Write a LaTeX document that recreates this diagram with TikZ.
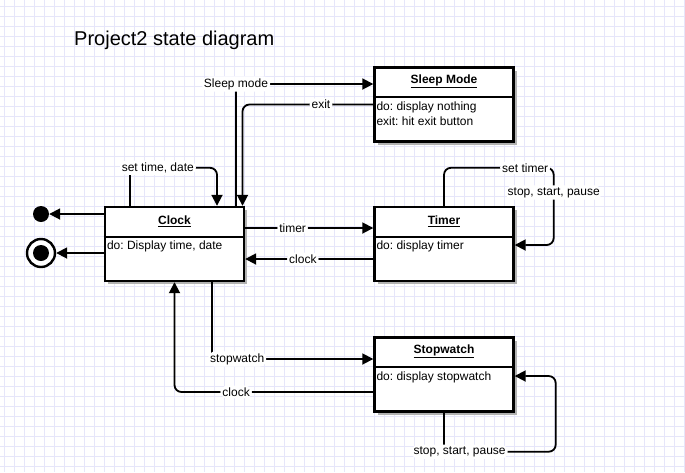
\documentclass[tikz,border=0pt]{standalone}
\usepackage{fontspec}
\setmainfont{Liberation Sans}
\usetikzlibrary{arrows.meta,positioning,calc,shadows}
\frenchspacing

\definecolor{gridblue}{RGB}{230,230,250}

\tikzset{
  statebox/.style={draw, line width=2.4pt, fill=white, minimum width=139pt, minimum height=74pt, inner sep=0pt,
    drop shadow={shadow xshift=3pt, shadow yshift=-3pt, fill=black!30, opacity=1}},
  statename/.style={font=\fontsize{12}{14}\selectfont\bfseries, inner sep=0pt, minimum height=30pt},
  statedo/.style={font=\fontsize{12}{15}\selectfont, align=left, anchor=north west, inner sep=2pt},
  divider/.style={line width=1.8pt},
  trans/.style={line width=1.8pt, rounded corners=7pt, -{Triangle[length=11pt,width=11pt]}},
  lbl/.style={fill=white, inner sep=2pt, font=\fontsize{12}{14}\selectfont},
  gridline/.style={line width=0.7pt, color=gridblue},
  dot/.style={circle, fill=black, minimum size=16pt, inner sep=0pt},
}

\begin{document}
\begin{tikzpicture}[x=1pt, y=-1pt]

	\fill[white] (0,0) rectangle (685,472);
	\useasboundingbox (0,0) rectangle (685,472);

	% grid
	\foreach \gx in {4,14,...,684}
		\draw[gridline] (\gx,0) -- (\gx,472);
	\foreach \gy in {6.5,16.5,...,472}
		\draw[gridline] (0,\gy) -- (685,\gy);

	\node[anchor=base west, inner sep=0pt, font=\fontsize{20}{24}\selectfont] (title) at (74,45.5) {Project2 state diagram};

	% states
	\node[statebox] (clock) at (174.5,244) {};
	\node[statename, below=0pt of clock.north] (clockname) {\underline{Clock}};
	\draw[divider] ($(clock.north west)+(0,31)$) -- ($(clock.north east)+(0,31)$);
	\node[statedo] (clockdo) at ($(clock.north west)+(1,33)$) {do: Display time, date};

	\node[statebox] (sleep) at (444,104.5) {};
	\node[statename, below=0pt of sleep.north] (sleepname) {\underline{Sleep Mode}};
	\draw[divider] ($(sleep.north west)+(0,31)$) -- ($(sleep.north east)+(0,31)$);
	\node[statedo] (sleepdo) at ($(sleep.north west)+(1,33)$) {do: display nothing\\exit: hit exit button};

	\node[statebox] (timer) at (444,244) {};
	\node[statename, below=0pt of timer.north] (timername) {\underline{Timer}};
	\draw[divider] ($(timer.north west)+(0,31)$) -- ($(timer.north east)+(0,31)$);
	\node[statedo] (timerdo) at ($(timer.north west)+(1,33)$) {do: display timer};

	\node[statebox] (stopwatch) at (444,374.5) {};
	\node[statename, below=0pt of stopwatch.north] (stopwatchname) {\underline{Stopwatch}};
	\draw[divider] ($(stopwatch.north west)+(0,31)$) -- ($(stopwatch.north east)+(0,31)$);
	\node[statedo] (stopwatchdo) at ($(stopwatch.north west)+(1,33)$) {do: display stopwatch};

	% initial and final
	\node[dot] (init) at (41,214) {};
	\node[circle, draw, line width=2.4pt, fill=white, minimum size=28pt, inner sep=0pt] (final) at (41,253) {};
	\node[dot] (finaldot) at (final) {};

	\draw[trans] ([yshift=30pt]clock.west) -- (init);
	\draw[trans] ([yshift=-9pt]clock.west) -- (final);

	% transitions
	\draw[trans] ([xshift=61.5pt]clock.north) |- node[lbl, pos=0.5]{Sleep mode} ([yshift=20.5pt]sleep.west);
	\draw[trans] (sleep.west) -| node[lbl, pos=0.2]{exit} ([xshift=68pt]clock.north);
	\draw[trans] ([xshift=-44.5pt]clock.north) -- ++(0,-38) -| node[lbl, pos=0.16]{set time, date} ([xshift=42.5pt]clock.north);

	\draw[trans] ([yshift=16pt]clock.east) -- node[lbl, pos=0.37]{timer} ([yshift=16pt]timer.west);
	\draw[trans] ([yshift=-15pt]timer.west) -- node[lbl, pos=0.55]{clock} ([yshift=-15pt]clock.east);
	\draw[trans] (timer.north) -- ++(0,-38) -| node[lbl, pos=0.37]{set timer} node[lbl, pos=0.66]{stop, start, pause} ([xshift=39pt, yshift=-1pt]timer.east) -- ([yshift=-1pt]timer.east);

	\draw[trans] ([xshift=37.5pt]clock.south) |- node[lbl, pos=0.578]{stopwatch} ([yshift=15.5pt]stopwatch.west);
	\draw[trans] ([yshift=-17.5pt]stopwatch.west) -| node[lbl, pos=0.345]{clock} (clock.south);
	\draw[trans] (stopwatch.south) -- ++(0,39) -| node[lbl, pos=0.07]{stop, start, pause} ([xshift=41pt, yshift=-1.5pt]stopwatch.east) -- ([yshift=-1.5pt]stopwatch.east);

\end{tikzpicture}
\end{document}
